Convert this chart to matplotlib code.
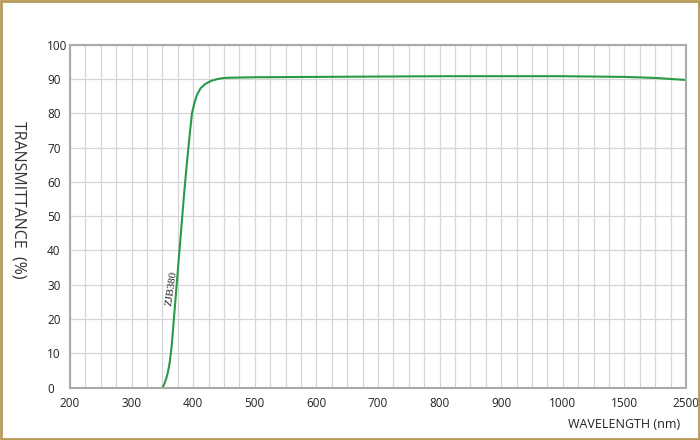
import numpy as np
import matplotlib
matplotlib.use('Agg')
import matplotlib.pyplot as plt
from matplotlib.patches import Rectangle

# transmittance curve (wavelength in nm, %)
wavelength = [350, 353, 356, 359, 362, 365, 370, 375, 380, 385, 390, 395, 398,
              402, 406, 412, 420, 430, 440, 450, 470, 500, 600, 700, 800, 900,
              1000, 1500, 2000, 2500]
transmittance = [0, 1.0, 2.5, 4.5, 7.5, 12, 23, 34, 45, 56, 66, 75, 80,
                 83, 85.3, 87.3, 88.6, 89.5, 90.0, 90.3, 90.4, 90.5, 90.6, 90.7,
                 90.8, 90.8, 90.8, 90.6, 90.3, 89.7]

xtick_vals = [200, 300, 400, 500, 600, 700, 800, 900, 1000, 1500, 2500]
ytick_vals = [0, 10, 20, 30, 40, 50, 60, 70, 80, 90, 100]

# piecewise axis: 100 nm per step up to 1000, then 500 nm, then 1000 nm
def fwd(w):
    w = np.asarray(w, dtype=float)
    return np.where(w <= 1000, (w - 200) / 100.0,
                    np.where(w <= 1500, 8 + (w - 1000) / 500.0, 9 + (w - 1500) / 1000.0))

def inv(p):
    p = np.asarray(p, dtype=float)
    return np.where(p <= 8, 200 + p * 100.0,
                    np.where(p <= 9, 1000 + (p - 8) * 500.0, 1500 + (p - 9) * 1000.0))

plt.rcParams['font.family'] = ['Open Sans', 'DejaVu Sans']

fig = plt.figure(figsize=(7, 4.4), dpi=100)
fig.patches.append(Rectangle((0.0015, 0.002), 0.997, 0.996, transform=fig.transFigure,
                             fill=False, edgecolor='#b8995a', linewidth=2))

ax = fig.add_axes([0.1, 0.119, 0.88, 0.7795])
ax.set_xscale('function', functions=(fwd, inv))
ax.set_xlim(200, 2500)
ax.set_ylim(0, 100)

# minor grid every quarter step
minor = list(np.arange(225, 1000, 25)) + [1125, 1250, 1375, 1750, 2000, 2250]
ax.set_xticks(xtick_vals)
ax.set_xticks(minor, minor=True)
ax.set_yticks(ytick_vals)
ax.grid(True, which='both', axis='x', color='#d6d6d6', linewidth=0.9)
ax.grid(True, which='major', axis='y', color='#d6d6d6', linewidth=0.9)
ax.set_axisbelow(True)

ax.plot(wavelength, transmittance, color='#2a9a48', linewidth=1.5)

ax.text(364, 29, 'ZJB380', rotation=82, ha='center', va='center', fontsize=8,
        family='Liberation Serif', color='#222222')

ax.tick_params(which='both', length=0, labelsize=8.5, colors='#222222')
ax.tick_params(axis='x', pad=7)
ax.tick_params(axis='y', pad=16.5)
for t in ax.get_yticklabels():
    t.set_ha('left')

for s in ax.spines.values():
    s.set_color('#aaaaaa')
    s.set_linewidth(1.5)

fig.text(0.027, 0.545, 'TRANSMITTANCE  (%)', rotation=-90, ha='center', va='center',
         fontsize=11.5, color='#333333')
fig.text(0.972, 0.036, 'WAVELENGTH (nm)', ha='right', va='center', fontsize=9,
         color='#222222')

fig.savefig('out.png', dpi=100)
